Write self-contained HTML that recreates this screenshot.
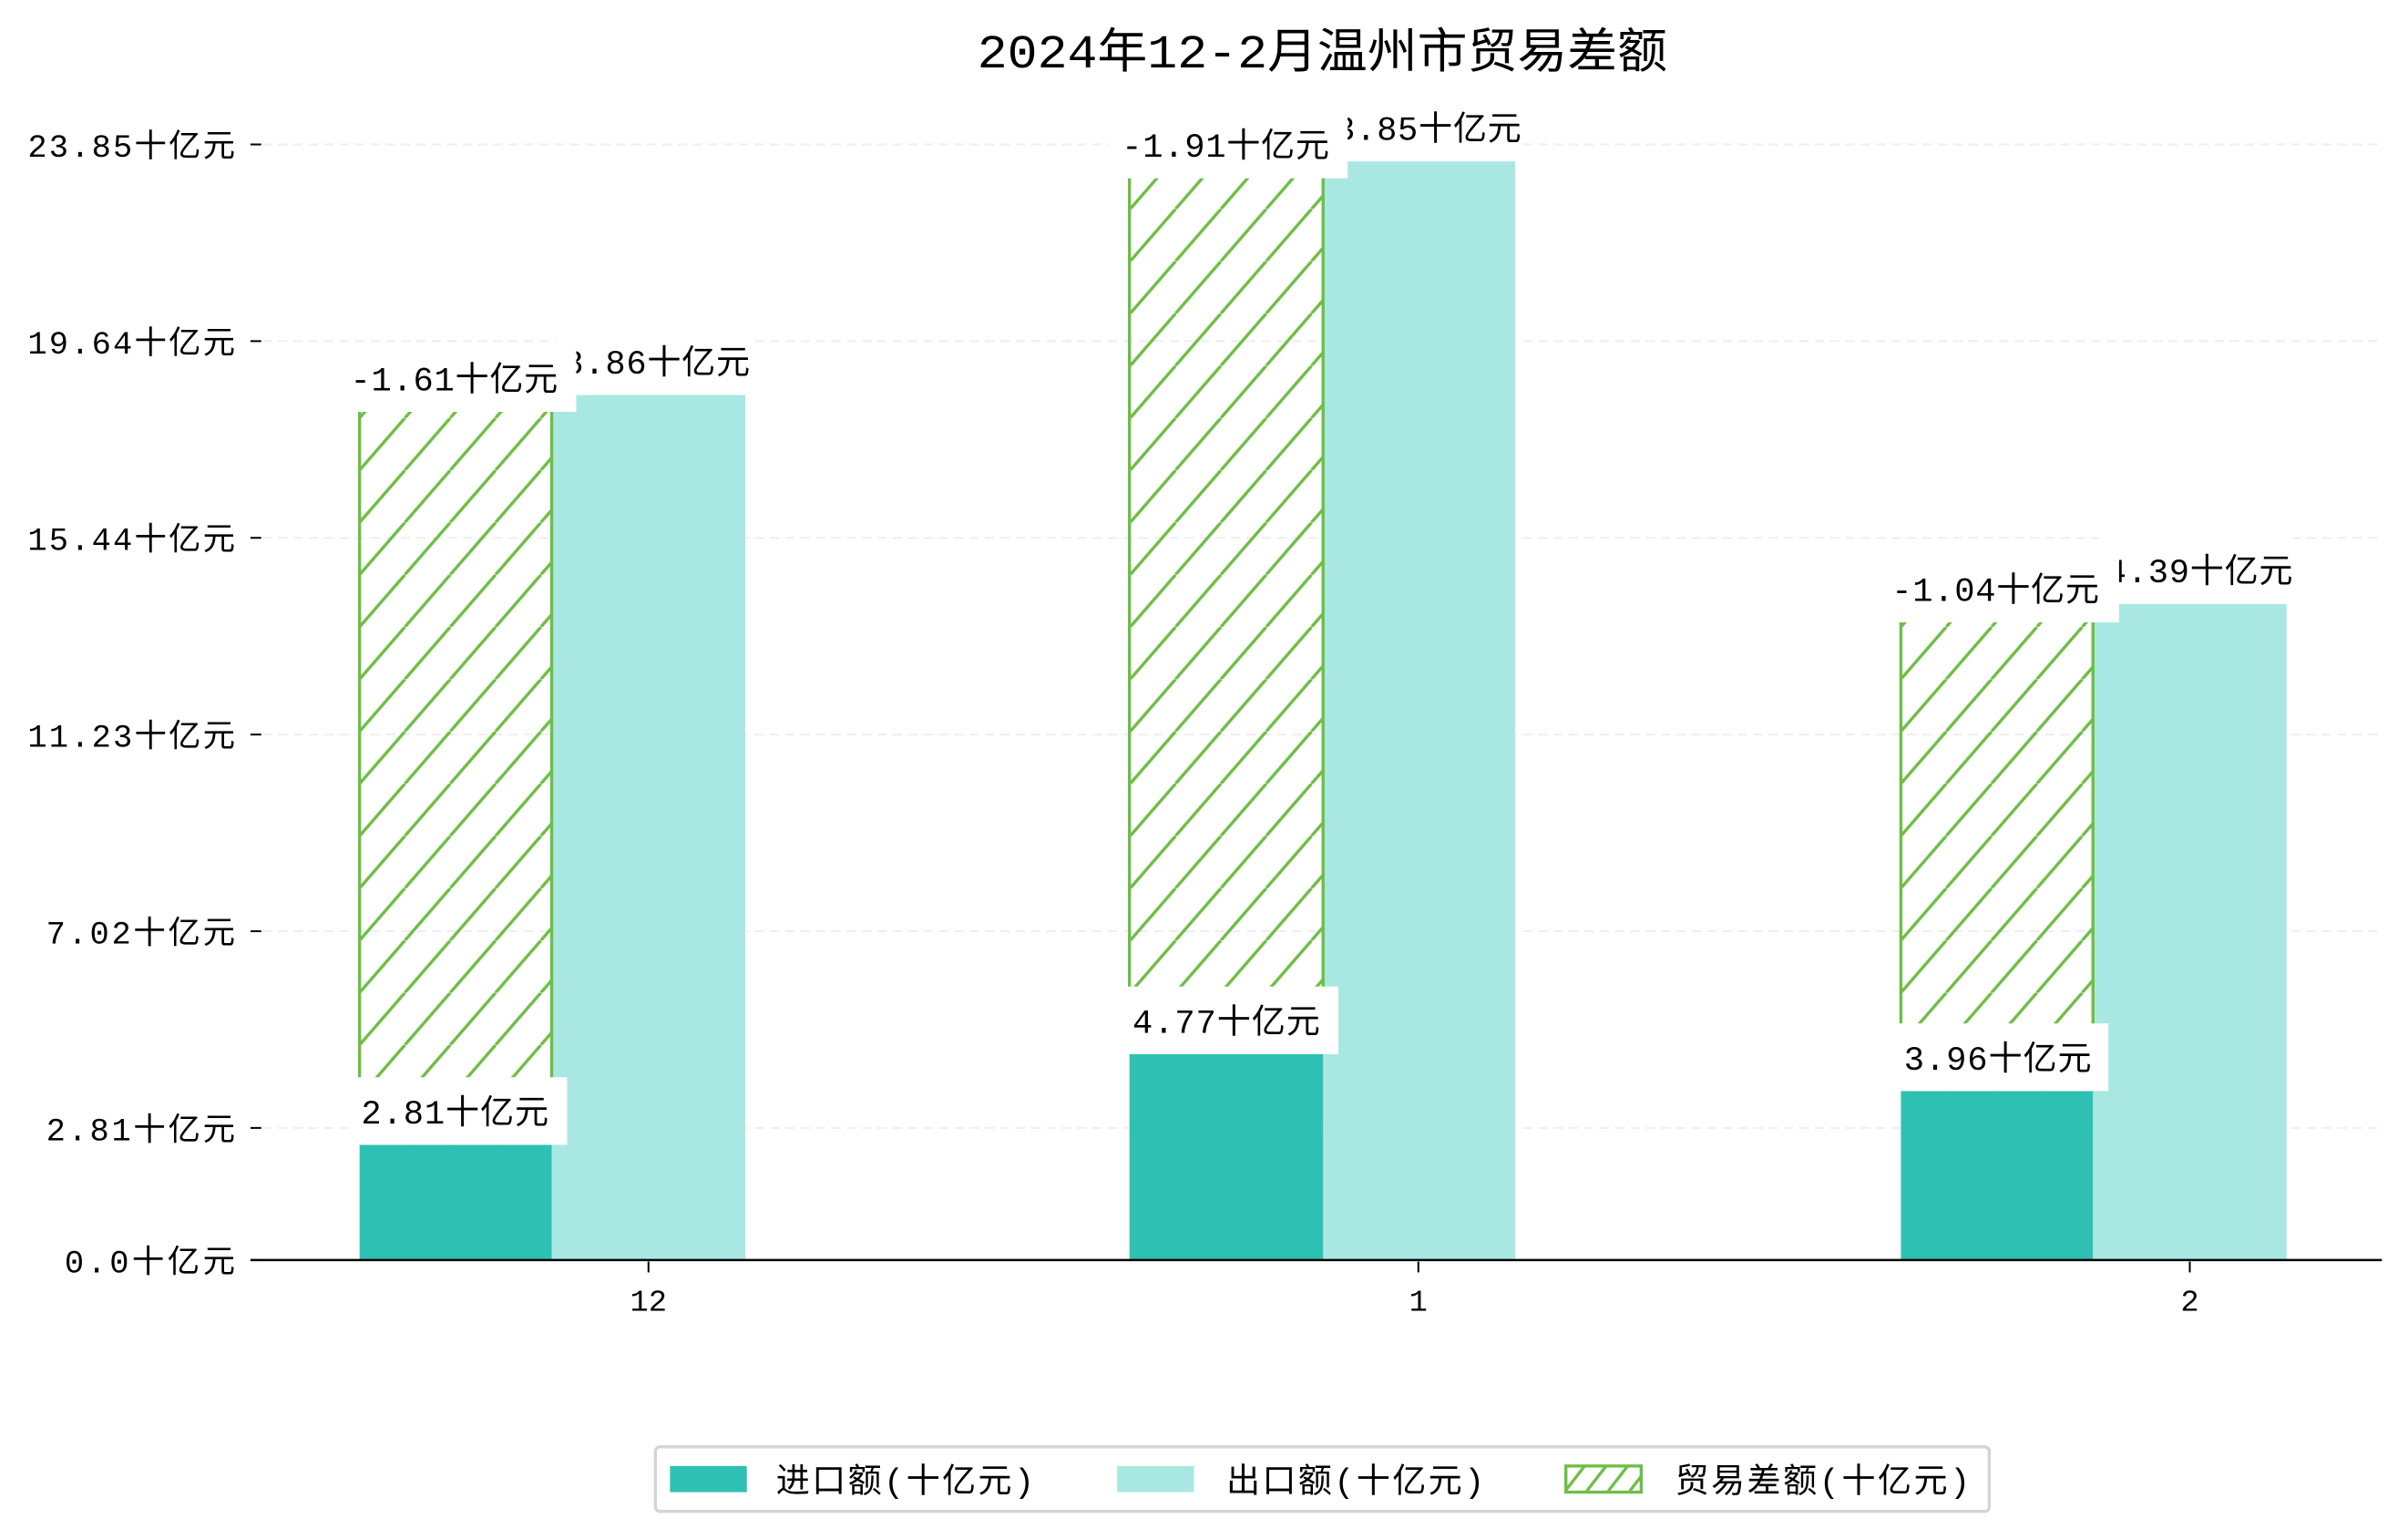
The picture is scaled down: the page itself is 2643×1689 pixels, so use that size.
<!DOCTYPE html>
<html><head><meta charset="utf-8"><style>
html,body{margin:0;padding:0;background:#fff;}
svg{display:block;}
text{font-family:"Liberation Mono","Noto Sans CJK SC","WenQuanYi Zen Hei",monospace;fill:#000;}
</style></head><body>
<svg width="2643" height="1689" viewBox="0 0 1567 1001.5" preserveAspectRatio="none" xmlns="http://www.w3.org/2000/svg">
<defs>
<pattern id="h" patternUnits="userSpaceOnUse" width="29.5" height="34" x="234" y="0">
<line x1="-29.5" y1="34" x2="0" y2="0" stroke="#6dbe45" stroke-width="2"/>
<line x1="0" y1="34" x2="29.5" y2="0" stroke="#6dbe45" stroke-width="2"/>
<line x1="29.5" y1="34" x2="59" y2="0" stroke="#6dbe45" stroke-width="2"/>
</pattern>
<pattern id="h2" patternUnits="userSpaceOnUse" width="14" height="16" x="1018" y="954">
<line x1="0" y1="17" x2="14" y2="-1" stroke="#6dbe45" stroke-width="2"/>
</pattern>
</defs>
<text x="636" y="44" font-size="31" textLength="449" lengthAdjust="spacingAndGlyphs">2024年12-2月温州市贸易差额</text>
<g stroke="#eeeeee" stroke-width="1.2" stroke-dasharray="6,4">
<line x1="171" y1="94" x2="1550" y2="94"/>
<line x1="171" y1="222" x2="1550" y2="222"/>
<line x1="171" y1="350" x2="1550" y2="350"/>
<line x1="171" y1="478" x2="1550" y2="478"/>
<line x1="171" y1="606" x2="1550" y2="606"/>
<line x1="171" y1="734" x2="1550" y2="734"/>
</g>
<g stroke="#000" stroke-width="1.2">
<line x1="163" y1="94" x2="170" y2="94"/>
<line x1="163" y1="222" x2="170" y2="222"/>
<line x1="163" y1="350" x2="170" y2="350"/>
<line x1="163" y1="478" x2="170" y2="478"/>
<line x1="163" y1="606" x2="170" y2="606"/>
<line x1="163" y1="734" x2="170" y2="734"/>
<line x1="163" y1="820" x2="170" y2="820"/>
<line x1="422" y1="821" x2="422" y2="828"/>
<line x1="923" y1="821" x2="923" y2="828"/>
<line x1="1425" y1="821" x2="1425" y2="828"/>
</g>
<g font-size="21" lengthAdjust="spacingAndGlyphs">
<text x="18" y="102" textLength="135">23.85十亿元</text>
<text x="18" y="230" textLength="135">19.64十亿元</text>
<text x="18" y="358" textLength="135">15.44十亿元</text>
<text x="18" y="486" textLength="135">11.23十亿元</text>
<text x="30" y="614" textLength="123">7.02十亿元</text>
<text x="30" y="742" textLength="123">2.81十亿元</text>
<text x="42" y="828" textLength="111">0.0十亿元</text>
</g>
<g font-size="20" text-anchor="middle">
<text x="422" y="853">12</text>
<text x="923" y="853">1</text>
<text x="1425" y="853">2</text>
</g>
<g fill="#a9e8e2">
<rect x="359" y="257" width="126" height="563"/>
<rect x="861" y="105" width="125" height="715"/>
<rect x="1362" y="393" width="126" height="427"/>
</g>
<g fill="#2ec0b3">
<rect x="234" y="745" width="125" height="75"/>
<rect x="735" y="686" width="126" height="134"/>
<rect x="1237" y="710" width="125" height="110"/>
</g>
<g fill="url(#h)">
<rect x="234" y="268" width="125" height="477"/>
<rect x="735" y="116" width="126" height="570"/>
<rect x="1237" y="405" width="125" height="305"/>
</g>
<g stroke="#6dbe45" stroke-width="2">
<line x1="234" y1="268" x2="234" y2="745"/><line x1="359" y1="268" x2="359" y2="745"/>
<line x1="735" y1="116" x2="735" y2="686"/><line x1="861" y1="116" x2="861" y2="686"/>
<line x1="1237" y1="405" x2="1237" y2="710"/><line x1="1362" y1="405" x2="1362" y2="710"/>
</g>
<line x1="163" y1="820" x2="1550" y2="820" stroke="#000" stroke-width="1.5"/>
<g font-size="22" lengthAdjust="spacingAndGlyphs">
<rect x="362" y="212" width="128" height="45" fill="#fff"/><text x="353" y="243" textLength="135">18.86十亿元</text>
<rect x="864" y="60" width="126" height="45" fill="#fff"/><text x="855" y="91" textLength="135">23.85十亿元</text>
<rect x="1366" y="348" width="126" height="45" fill="#fff"/><text x="1357" y="379" textLength="135">14.39十亿元</text>
<rect x="222" y="224" width="153" height="44" fill="#fff"/><text x="228" y="254" textLength="135">-1.61十亿元</text>
<rect x="722" y="72" width="155" height="44" fill="#fff"/><text x="730" y="102" textLength="135">-1.91十亿元</text>
<rect x="1224" y="361" width="155" height="44" fill="#fff"/><text x="1231" y="391" textLength="135">-1.04十亿元</text>
<rect x="228" y="701" width="141" height="44" fill="#fff"/><text x="235" y="731" textLength="122">2.81十亿元</text>
<rect x="729" y="642" width="142" height="44" fill="#fff"/><text x="737" y="672" textLength="122">4.77十亿元</text>
<rect x="1231" y="666" width="141" height="44" fill="#fff"/><text x="1239" y="696" textLength="122">3.96十亿元</text>
</g>
<rect x="426.5" y="941.5" width="868" height="42" rx="3" fill="#fff" stroke="#d4d4d4" stroke-width="2"/>
<rect x="436" y="954" width="50" height="17" fill="#2ec0b3"/>
<rect x="727" y="954" width="50" height="17" fill="#a9e8e2"/>
<rect x="1019" y="954" width="49" height="17" fill="url(#h2)" stroke="#6dbe45" stroke-width="2"/>
<g font-size="22" lengthAdjust="spacingAndGlyphs">
<text x="505" y="971" textLength="168">进口额(十亿元)</text>
<text x="798" y="971" textLength="168">出口额(十亿元)</text>
<text x="1090" y="971" textLength="192">贸易差额(十亿元)</text>
</g>
</svg>
</body></html>
